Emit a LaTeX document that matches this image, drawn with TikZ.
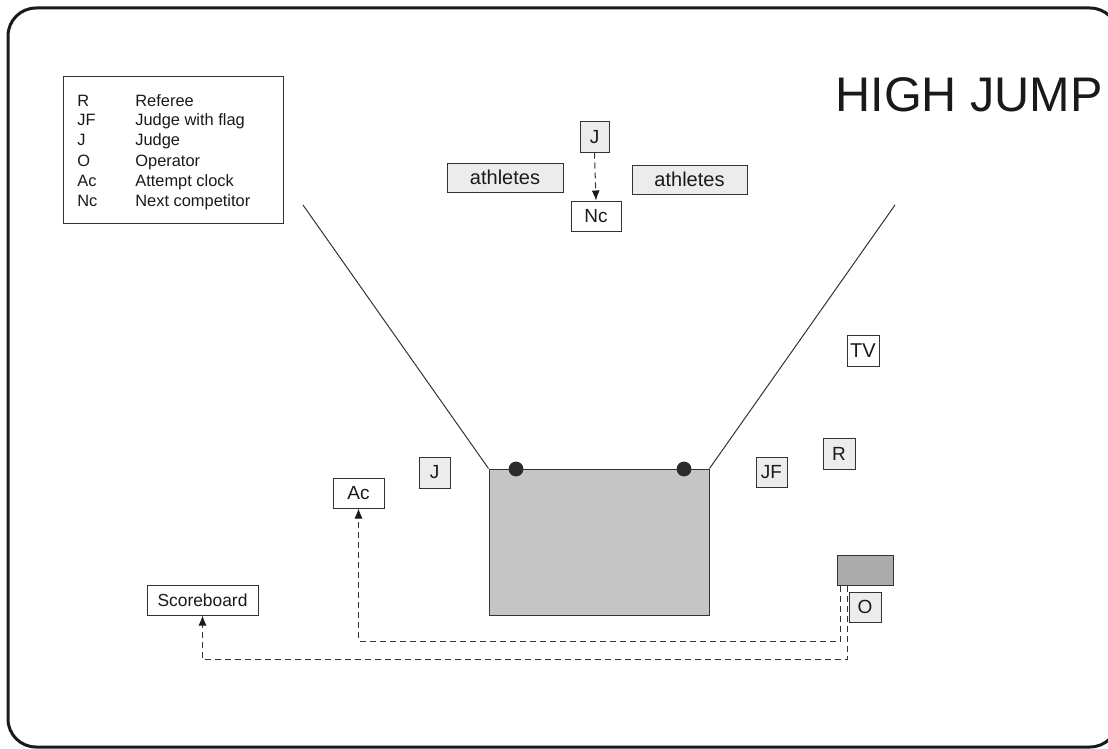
\documentclass[tikz,border=0pt]{standalone}
\usepackage{fontspec}
\setmainfont{Liberation Sans}
\usetikzlibrary{arrows.meta}
\definecolor{lightbox}{HTML}{ECECEC}
\definecolor{pitgray}{HTML}{C4C5C4}
\definecolor{darkbox}{HTML}{ACACAC}
\definecolor{dotcol}{HTML}{2B2B2B}
\definecolor{ink}{HTML}{1A1A1A}
\definecolor{edge}{HTML}{333333}
\begin{document}
\begin{tikzpicture}[x=0.5pt,y=-0.5pt,
  every node/.style={text=ink},
  boxbase/.style={draw=edge,line width=0.5pt,inner sep=0pt,font=\fontsize{9.5}{11}\selectfont},
  whitebox/.style={boxbase,fill=white},
  graybox/.style={boxbase,fill=lightbox},
  legendtext/.style={anchor=base west,inner sep=0pt,font=\fontsize{8.2}{9.8}\selectfont},
  dashlink/.style={draw=edge,line width=0.5pt,dash pattern=on 3pt off 2pt},
  tipped/.style={dashlink,-{Latex[length=5pt,width=4pt,fill=ink,color=ink]}},
  funnel/.style={draw=edge,line width=0.5pt},
  post/.style={circle,fill=dotcol,draw=dotcol,inner sep=0pt,minimum size=7pt}
]
\useasboundingbox (0,0) rectangle (1108,749);
% frame
\draw[line width=1.5pt,draw=ink,rounded corners=14pt] (8,8) rectangle (1118,747);

% title
\node[anchor=base west,inner sep=0pt,font=\fontsize{24.3}{29}\selectfont] (title) at (835,112) {HIGH JUMP};

% legend
\node[draw=edge,line width=0.5pt,fill=white,minimum width=110pt,minimum height=73pt,inner sep=0pt] (legend) at (173,150) {};
\foreach \ab/\de/\yy [count=\i] in {R/Referee/106,JF/Judge with flag/126,J/Judge/146,O/Operator/166,Ac/Attempt clock/186,Nc/Next competitor/206}{
  \node[legendtext] (lab\i) at (77,\yy) {\ab};
  \node[legendtext] (desc\i) at (135,\yy) {\de};
}

% top area
\node[graybox,minimum width=14.5pt,minimum height=15pt] (jtop) at (594.5,137) {J};
\node[whitebox,minimum width=25pt,minimum height=15pt] (nc) at (596,216) {Nc};
\node[graybox,minimum width=58pt,minimum height=14.5pt,font=\fontsize{10}{12}\selectfont] (athl) at (505,177.5) {athletes};
\node[graybox,minimum width=57.5pt,minimum height=14.5pt,font=\fontsize{10}{12}\selectfont] (athr) at (689.5,179.5) {athletes};
\draw[tipped] (jtop.south) -- (nc.north);

% landing pit and funnel
\node[draw=edge,line width=0.5pt,fill=pitgray,minimum width=110pt,minimum height=73pt,inner sep=0pt] (pit) at (599,542) {};
\coordinate (fl) at (303,205);
\coordinate (fr) at (895,205);
\draw[funnel] (fl) -- (pit.north west);
\draw[funnel] (fr) -- (pit.north east);
\node[post] (postl) at (516,469) {};
\node[post] (postr) at (684,469) {};

% officials
\node[graybox,minimum width=15.5pt,minimum height=15.5pt] (jleft) at (434.5,472.5) {J};
\node[whitebox,minimum width=25.5pt,minimum height=15pt] (ac) at (358.5,493) {Ac};
\node[whitebox,minimum width=55.5pt,minimum height=15pt,font=\fontsize{8.7}{10}\selectfont] (score) at (202.5,600) {Scoreboard};
\node[graybox,minimum width=15.5pt,minimum height=15pt] (jf) at (771.5,472) {JF};
\node[graybox,minimum width=16pt,minimum height=15.5pt] (ref) at (839,453.5) {R};
\node[whitebox,minimum width=16pt,minimum height=15.5pt,font=\fontsize{10}{12}\selectfont] (tv) at (863,350.5) {TV};
\node[boxbase,fill=darkbox,minimum width=28pt,minimum height=15pt] (console) at (865,570) {};
\node[graybox,minimum width=16pt,minimum height=15pt] (op) at (865,607) {O};

% cables
\coordinate (ca) at (840,641);
\coordinate (cb) at (847.7,659);
\draw[tipped] (console.south -| ca) -- (ca) -- (ca -| ac.south) -- (ac.south);
\draw[tipped] (console.south -| cb) -- (cb) -- (cb -| score.south) -- (score.south);
\end{tikzpicture}
\end{document}
